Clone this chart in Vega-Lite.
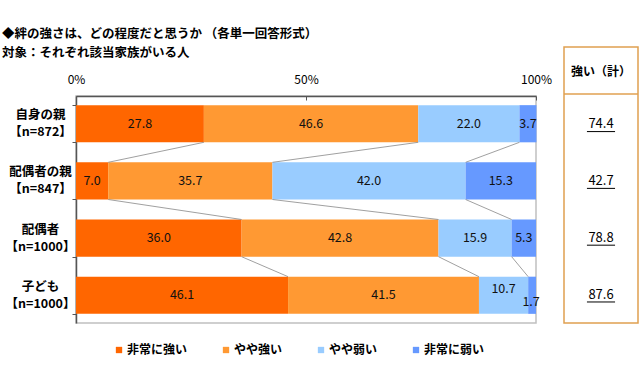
{
  "$schema": "https://vega.github.io/schema/vega-lite/v6.json",
  "width": 460,
  "height": 227,
  "autosize": {"type": "none"},
  "padding": {"left": 76, "top": 96, "right": 104, "bottom": 57},
  "background": "white",
  "config": {
    "font": "Noto Sans CJK JP",
    "view": {"stroke": "#c0c0c0", "strokeWidth": 1.5}
  },
  "title": {
    "text": ["◆絆の強さは、どの程度だと思うか （各単一回答形式）", "対象：それぞれ該当家族がいる人"],
    "anchor": "start",
    "frame": "group",
    "dx": -74,
    "dy": 23,
    "offset": 10,
    "fontSize": 12.5,
    "fontWeight": "bold",
    "lineHeight": 19,
    "color": "#000"
  },
  "datasets": {
    "main": [
      {"row": "自身の親\n【n=872】", "ri": 1, "cat": "非常に強い", "order": 1, "value": 27.8},
      {"row": "自身の親\n【n=872】", "ri": 1, "cat": "やや強い", "order": 2, "value": 46.6},
      {"row": "自身の親\n【n=872】", "ri": 1, "cat": "やや弱い", "order": 3, "value": 22.0},
      {"row": "自身の親\n【n=872】", "ri": 1, "cat": "非常に弱い", "order": 4, "value": 3.7},
      {"row": "配偶者の親\n【n=847】", "ri": 2, "cat": "非常に強い", "order": 1, "value": 7.0},
      {"row": "配偶者の親\n【n=847】", "ri": 2, "cat": "やや強い", "order": 2, "value": 35.7},
      {"row": "配偶者の親\n【n=847】", "ri": 2, "cat": "やや弱い", "order": 3, "value": 42.0},
      {"row": "配偶者の親\n【n=847】", "ri": 2, "cat": "非常に弱い", "order": 4, "value": 15.3},
      {"row": "配偶者\n【n=1000】", "ri": 3, "cat": "非常に強い", "order": 1, "value": 36.0},
      {"row": "配偶者\n【n=1000】", "ri": 3, "cat": "やや強い", "order": 2, "value": 42.8},
      {"row": "配偶者\n【n=1000】", "ri": 3, "cat": "やや弱い", "order": 3, "value": 15.9},
      {"row": "配偶者\n【n=1000】", "ri": 3, "cat": "非常に弱い", "order": 4, "value": 5.3},
      {"row": "子ども\n【n=1000】", "ri": 4, "cat": "非常に強い", "order": 1, "value": 46.1},
      {"row": "子ども\n【n=1000】", "ri": 4, "cat": "やや強い", "order": 2, "value": 41.5},
      {"row": "子ども\n【n=1000】", "ri": 4, "cat": "やや弱い", "order": 3, "value": 10.7},
      {"row": "子ども\n【n=1000】", "ri": 4, "cat": "非常に弱い", "order": 4, "value": 1.7}
    ]
  },
  "layer": [
    {
      "data": {"name": "main"},
      "layer": [
        {
          "mark": {"type": "bar"},
          "encoding": {
            "y": {
              "field": "row", "type": "nominal",
              "sort": ["自身の親\n【n=872】", "配偶者の親\n【n=847】", "配偶者\n【n=1000】", "子ども\n【n=1000】"],
              "scale": {"paddingInner": 0.35, "paddingOuter": 0.16},
              "axis": {
                "title": null,
                "labelExpr": "isValid(datum.value) ? split(datum.value, '\\n') : ''",
                "labelAlign": "center",
                "labelBaseline": "middle",
                "labelPadding": 32,
                "labelOffset": -9,
                "tickSize": 4,
                "tickBand": "extent",
                "domainColor": "#555",
                "domainWidth": 1.5,
                "tickColor": "#555",
                "labelFontSize": 12.5,
                "labelFontWeight": "bold",
                "labelLineHeight": 17,
                "labelColor": "#000"
              }
            },
            "x": {
              "field": "value", "type": "quantitative", "stack": "zero",
              "scale": {"domain": [0, 100], "nice": false},
              "axis": {
                "orient": "top",
                "title": null,
                "values": [0, 50, 100],
                "labelExpr": "datum.value + '%'",
                "grid": false,
                "domainColor": "#555",
                "domainWidth": 1.5,
                "tickColor": "#555",
                "tickSize": -4,
                "labelPadding": 14,
                "labelFlush": false,
                "labelFontSize": 12,
                "labelColor": "#000"
              }
            },
            "color": {
              "field": "cat", "type": "nominal",
              "scale": {
                "domain": ["非常に強い", "やや強い", "やや弱い", "非常に弱い"],
                "range": ["#FF6600", "#FF9933", "#99CCFF", "#6699FF"]
              },
              "legend": {
                "title": null,
                "orient": "none",
                "legendX": 37,
                "legendY": 248,
                "direction": "horizontal",
                "symbolType": "square",
                "symbolSize": 40,
                "symbolStrokeWidth": 0,
                "labelFontSize": 12,
                "labelFontWeight": "bold",
                "labelColor": "#000",
                "labelOffset": 2,
                "columnPadding": 32
              }
            },
            "order": {"field": "order"}
          }
        },
        {
          "transform": [
            {"stack": "value", "groupby": ["row"], "sort": [{"field": "order"}], "as": ["v0", "v1"]},
            {"filter": "datum.order < 4"},
            {"window": [{"op": "lead", "field": "v1", "as": "nv"}, {"op": "lead", "field": "row", "as": "nrow"}], "groupby": ["cat"], "sort": [{"field": "ri"}]},
            {"filter": "datum.nrow != null"}
          ],
          "mark": {"type": "rule", "color": "#888", "strokeWidth": 0.8},
          "encoding": {
            "x": {"field": "v1", "type": "quantitative"},
            "x2": {"field": "nv"},
            "y": {"field": "row", "type": "nominal", "bandPosition": 1, "sort": ["自身の親\n【n=872】", "配偶者の親\n【n=847】", "配偶者\n【n=1000】", "子ども\n【n=1000】"]},
            "y2": {"field": "nrow", "bandPosition": 0}
          }
        },
        {
          "transform": [
            {"stack": "value", "groupby": ["row"], "sort": [{"field": "order"}], "as": ["v0", "v1"]},
            {"calculate": "(datum.v0 + datum.v1) / 2", "as": "mid"},
            {"filter": "!(datum.ri == 4 && datum.order >= 3)"}
          ],
          "mark": {"type": "text", "fontSize": 12.5, "color": "#111"},
          "encoding": {
            "x": {"field": "mid", "type": "quantitative"},
            "y": {"field": "row", "type": "nominal", "sort": ["自身の親\n【n=872】", "配偶者の親\n【n=847】", "配偶者\n【n=1000】", "子ども\n【n=1000】"]},
            "text": {"field": "value", "type": "quantitative", "format": ".1f"}
          }
        },
        {
          "transform": [
            {"stack": "value", "groupby": ["row"], "sort": [{"field": "order"}], "as": ["v0", "v1"]},
            {"calculate": "(datum.v0 + datum.v1) / 2", "as": "mid"},
            {"filter": "datum.ri == 4 && datum.order == 3"}
          ],
          "mark": {"type": "text", "fontSize": 12.5, "color": "#111", "dy": -6},
          "encoding": {
            "x": {"field": "mid", "type": "quantitative"},
            "y": {"field": "row", "type": "nominal", "sort": ["自身の親\n【n=872】", "配偶者の親\n【n=847】", "配偶者\n【n=1000】", "子ども\n【n=1000】"]},
            "text": {"field": "value", "type": "quantitative", "format": ".1f"}
          }
        },
        {
          "transform": [
            {"stack": "value", "groupby": ["row"], "sort": [{"field": "order"}], "as": ["v0", "v1"]},
            {"calculate": "(datum.v0 + datum.v1) / 2", "as": "mid"},
            {"filter": "datum.ri == 4 && datum.order == 4"}
          ],
          "mark": {"type": "text", "fontSize": 12.5, "color": "#111", "dy": 7, "dx": -1},
          "encoding": {
            "x": {"field": "mid", "type": "quantitative"},
            "y": {"field": "row", "type": "nominal", "sort": ["自身の親\n【n=872】", "配偶者の親\n【n=847】", "配偶者\n【n=1000】", "子ども\n【n=1000】"]},
            "text": {"field": "value", "type": "quantitative", "format": ".1f"}
          }
        }
      ]
    },
    {
      "data": {"name": "main"},
      "layer": [
        {
          "data": {"values": [{"k": "box"}]},
          "mark": {"type": "rect", "fill": "white", "stroke": "#E0A050", "strokeWidth": 1.5},
          "encoding": {
            "x": {"datum": 0, "type": "quantitative", "scale": {"domain": [0, 1], "range": [488, 562], "nice": false, "zero": false}, "axis": null},
            "x2": {"datum": 1},
            "y": {
              "datum": "強い（計）", "type": "nominal", "bandPosition": 0.14,
              "scale": {
                "domain": ["強い（計）", "自身の親\n【n=872】", "配偶者の親\n【n=847】", "配偶者\n【n=1000】", "子ども\n【n=1000】"],
                "range": [-57, 227], "paddingInner": 0, "paddingOuter": 0
              },
              "axis": null
            },
            "y2": {"datum": "子ども\n【n=1000】", "bandPosition": 1}
          }
        },
        {
          "data": {"values": [{"k": "divider"}]},
          "mark": {"type": "rule", "color": "#E0A050", "strokeWidth": 1.5},
          "encoding": {
            "x": {"datum": 0, "type": "quantitative"},
            "x2": {"datum": 1},
            "y": {"datum": "強い（計）", "type": "nominal", "bandPosition": 0.97}
          }
        },
        {
          "data": {"values": [{"k": "強い（計）"}]},
          "mark": {"type": "text", "fontSize": 12, "fontWeight": "bold", "color": "#000", "dy": 5},
          "encoding": {
            "x": {"datum": 0.5, "type": "quantitative"},
            "y": {"field": "k", "type": "nominal"},
            "text": {"field": "k"}
          }
        },
        {
          "transform": [
            {"filter": "datum.order <= 2"},
            {"aggregate": [{"op": "sum", "field": "value", "as": "total"}], "groupby": ["row"]}
          ],
          "layer": [
            {
              "mark": {"type": "text", "fontSize": 13, "color": "#000"},
              "encoding": {
                "x": {"datum": 0.5, "type": "quantitative"},
                "y": {"field": "row", "type": "nominal"},
                "text": {"field": "total", "type": "quantitative", "format": ".1f"}
              }
            },
            {
              "mark": {"type": "rule", "color": "#000", "strokeWidth": 1},
              "encoding": {
                "x": {"datum": 0.31, "type": "quantitative"},
                "x2": {"datum": 0.69},
                "y": {"field": "row", "type": "nominal", "bandPosition": 0.63}
              }
            }
          ]
        }
      ]
    }
  ],
  "resolve": {
    "scale": {"x": "independent", "y": "independent"},
    "axis": {"x": "independent", "y": "independent"}
  }
}
